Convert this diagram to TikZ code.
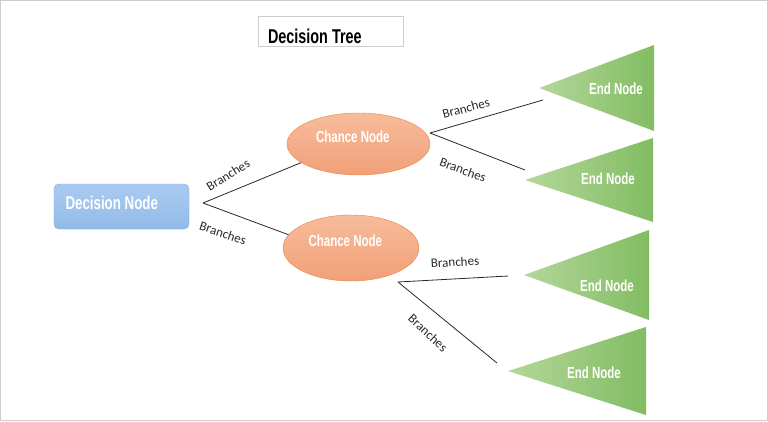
\documentclass[tikz,border=0pt]{standalone}
\usepackage{fontspec}
\setmainfont{Carlito}
\newfontfamily\nodefont[FakeStretch=0.72]{Liberation Sans}
\usetikzlibrary{shapes.geometric}
\definecolor{framegray}{RGB}{205,205,205}
\definecolor{decline}{RGB}{120,168,222}
\definecolor{dectop}{RGB}{170,203,240}
\definecolor{decbot}{RGB}{146,186,233}
\definecolor{chline}{RGB}{236,130,70}
\definecolor{chtop}{RGB}{247,188,155}
\definecolor{chbot}{RGB}{241,160,120}
\definecolor{endleft}{RGB}{180,215,155}
\definecolor{endright}{RGB}{130,188,98}
\definecolor{branchline}{RGB}{40,40,40}
\newcommand{\lbox}[2]{\makebox[#1][l]{#2}}

\begin{document}
\begin{tikzpicture}[
      x=1pt, y=-1pt,
      titlebox/.style={draw=framegray, minimum width=145pt, minimum height=30pt, inner xsep=10pt, inner ysep=0pt,
        text height=24pt, text depth=0pt,
        font=\nodefont\bfseries\fontsize{20}{21}\selectfont},
      decision/.style={draw=decline, rounded corners=5pt, top color=dectop, bottom color=decbot,
        minimum width=135pt, minimum height=45pt, inner xsep=11pt,
        text height=13pt, text depth=7pt, text=white, font=\nodefont\bfseries\fontsize{18.5}{19}\selectfont},
      chance/.style={ellipse, draw=chline, top color=chtop, bottom color=chbot, inner sep=0pt,
        text height=11pt, text depth=14pt, text=white,
        font=\nodefont\bfseries\fontsize{16}{17}\selectfont},
      endshade/.style={left color=endleft, right color=endright},
      endtext/.style={text=white, inner sep=0pt, font=\nodefont\bfseries\fontsize{16}{17}\selectfont},
      branch/.style={inner sep=1pt, text=branchline, font=\fontsize{13}{14}\selectfont},
      link/.style={draw=branchline, line width=0.8pt}
    ]
      \useasboundingbox (0,0) rectangle (768,421);
      \draw[framegray] (0.5,0.5) rectangle (767.5,420.5);

      \node[titlebox] (title) at (330.5,31) {\lbox{125pt}{Decision Tree}};

      \node[decision] (dec) at (121.5,206.5) {\lbox{112pt}{Decision Node}};
      \node[chance, minimum width=143pt, minimum height=62pt] (ch1) at (358.5,144) {\lbox{85pt}{Chance Node}};
      \node[chance, minimum width=136pt, minimum height=66pt] (ch2) at (351,248) {\lbox{85pt}{Chance Node}};

      \shade[endshade] (539,88) -- (654,45) -- (654,131) -- cycle;
      \shade[endshade] (525,180) -- (653,138) -- (653,222) -- cycle;
      \shade[endshade] (524,275) -- (649,230) -- (649,320) -- cycle;
      \shade[endshade] (508,371) -- (646,327) -- (646,415) -- cycle;
      \node[endtext] (end1) at (616,89) {End Node};
      \node[endtext] (end2) at (608,178.5) {End Node};
      \node[endtext] (end3) at (607,285.5) {End Node};
      \node[endtext] (end4) at (594,373) {End Node};

      \coordinate (decfork) at (203,203);
      \coordinate (ch1fork) at (430,133);
      \coordinate (ch2fork) at (398,282);
      \coordinate (tip1) at (543,100);
      \coordinate (tip2) at (525,170);
      \coordinate (tip3) at (508,276);
      \coordinate (tip4) at (497,363);

      \draw[link] (decfork) -- (ch1.198);
      \draw[link] (decfork) -- (ch2.168);
      \draw[link] (ch1fork) -- (tip1);
      \draw[link] (ch1fork) -- (tip2);
      \draw[link] (ch2fork) -- (tip3);
      \draw[link] (ch2fork) -- (tip4);

      \node[branch, rotate=32] (br1) at (228,175) {Branches};
      \node[branch, rotate=-19] (br2) at (223,233) {Branches};
      \node[branch, rotate=15] (br3) at (466,108) {Branches};
      \node[branch, rotate=-20] (br4) at (463,170) {Branches};
      \node[branch, rotate=3] (br5) at (455,262) {Branches};
      \node[branch, rotate=-43] (br6) at (428,333) {Branches};
    \end{tikzpicture}
\end{document}
